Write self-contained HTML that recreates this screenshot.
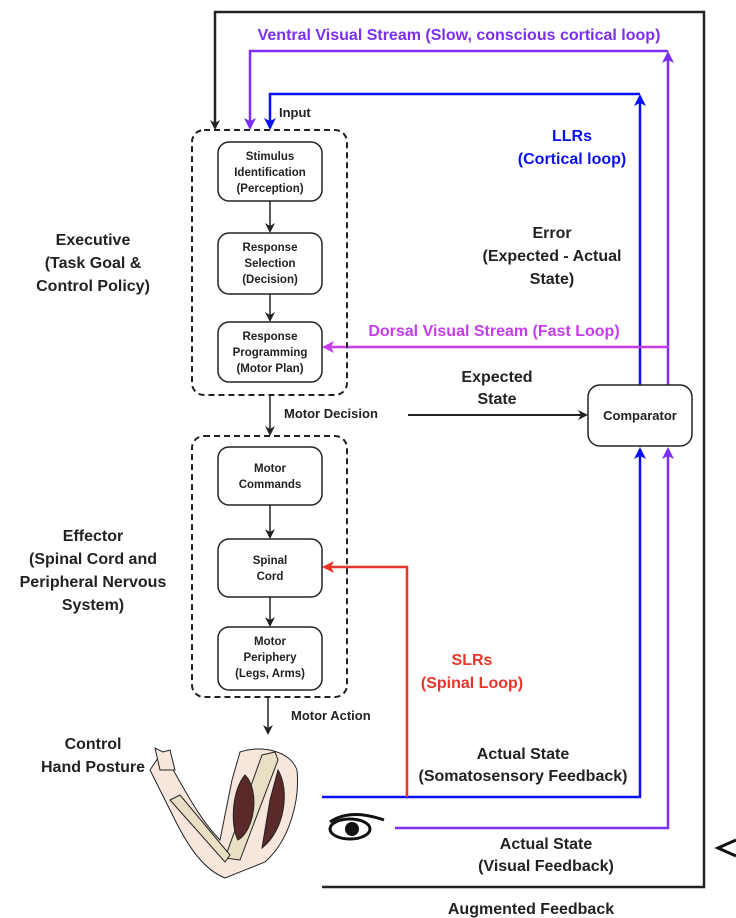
<!DOCTYPE html>
<html><head><meta charset="utf-8"><style>
body{margin:0;background:#fff}
svg{display:block;font-family:"Liberation Sans",sans-serif;font-weight:bold}
</style></head><body>
<svg width="736" height="918" viewBox="0 0 736 918" xmlns="http://www.w3.org/2000/svg">
<defs>
<marker id="ak" markerWidth="10" markerHeight="10" refX="8" refY="5" orient="auto" markerUnits="userSpaceOnUse"><path d="M0,0 L10,5 L0,10 L3,5z" fill="#222"/></marker>
<marker id="ap" markerWidth="12" markerHeight="12" refX="10" refY="6" orient="auto" markerUnits="userSpaceOnUse"><path d="M0,0 L12,6 L0,12 L3,6z" fill="#7b2ff2"/></marker>
<marker id="ab" markerWidth="12" markerHeight="12" refX="10" refY="6" orient="auto" markerUnits="userSpaceOnUse"><path d="M0,0 L12,6 L0,12 L3,6z" fill="#0a10f0"/></marker>
<marker id="am" markerWidth="12" markerHeight="12" refX="10" refY="6" orient="auto" markerUnits="userSpaceOnUse"><path d="M0,0 L12,6 L0,12 L3,6z" fill="#c83cf0"/></marker>
<marker id="ar" markerWidth="12" markerHeight="12" refX="10" refY="6" orient="auto" markerUnits="userSpaceOnUse"><path d="M0,0 L12,6 L0,12 L3,6z" fill="#e8352a"/></marker>
</defs>
<!-- outer black loop -->
<path d="M322,887 H704 V12 H215 V128" fill="none" stroke="#222" stroke-width="2.5" marker-end="url(#ak)"/>
<!-- ventral -->
<path d="M668,385 V53" fill="none" stroke="#7b2ff2" stroke-width="2.5" marker-end="url(#ap)"/>
<path d="M668,51 H250 V128" fill="none" stroke="#7b2ff2" stroke-width="2.5" marker-end="url(#ap)"/>
<path d="M395,828 H668 V449" fill="none" stroke="#7b2ff2" stroke-width="2.5" marker-end="url(#ap)"/>
<!-- blue -->
<path d="M640,385 V96" fill="none" stroke="#0a10f0" stroke-width="2.5" marker-end="url(#ab)"/>
<path d="M640,94 H270 V128" fill="none" stroke="#0a10f0" stroke-width="2.5" marker-end="url(#ab)"/>
<path d="M322,797 H640 V449" fill="none" stroke="#0a10f0" stroke-width="2.5" marker-end="url(#ab)"/>
<!-- dorsal -->
<path d="M668,347 H324" fill="none" stroke="#c83cf0" stroke-width="2.5" marker-end="url(#am)"/>
<!-- red -->
<path d="M407,797 V567 H324" fill="none" stroke="#e8352a" stroke-width="2.5" marker-end="url(#ar)"/>
<!-- expected state -->
<path d="M408,415 H586" fill="none" stroke="#222" stroke-width="2" marker-end="url(#ak)"/>
<!-- dashed boxes -->
<rect x="192" y="130" width="155" height="265" rx="12" fill="none" stroke="#222" stroke-width="2" stroke-dasharray="6,4"/>
<rect x="192" y="436" width="155" height="261" rx="12" fill="none" stroke="#222" stroke-width="2" stroke-dasharray="6,4"/>
<g fill="#fff" stroke="#222" stroke-width="1.5">
<rect x="218" y="142" width="104" height="59" rx="11"/>
<rect x="218" y="233" width="104" height="61" rx="11"/>
<rect x="218" y="322" width="104" height="60" rx="11"/>
<rect x="218" y="447" width="104" height="58" rx="11"/>
<rect x="218" y="539" width="104" height="58" rx="11"/>
<rect x="218" y="627" width="104" height="63" rx="11"/>
<rect x="588" y="385" width="104" height="61" rx="12"/>
</g>
<g stroke="#222" stroke-width="1.5" fill="none">
<path d="M270,201 V231" marker-end="url(#ak)"/>
<path d="M270,294 V320" marker-end="url(#ak)"/>
<path d="M270,395 V434" marker-end="url(#ak)"/>
<path d="M270,505 V537" marker-end="url(#ak)"/>
<path d="M270,597 V625" marker-end="url(#ak)"/>
<path d="M268,697 V733" marker-end="url(#ak)"/>
</g>
<g font-size="11.5" fill="#222" text-anchor="middle">
<text x="270" y="160">Stimulus</text><text x="270" y="176">Identification</text><text x="270" y="192">(Perception)</text>
<text x="270" y="251">Response</text><text x="270" y="267">Selection</text><text x="270" y="283">(Decision)</text>
<text x="270" y="340">Response</text><text x="270" y="356">Programming</text><text x="270" y="372">(Motor Plan)</text>
<text x="270" y="472">Motor</text><text x="270" y="488">Commands</text>
<text x="270" y="564">Spinal</text><text x="270" y="580">Cord</text>
<text x="270" y="645">Motor</text><text x="270" y="661">Periphery</text><text x="270" y="677">(Legs, Arms)</text>
<text x="640" y="420" font-size="13">Comparator</text>
</g>
<g font-size="13" fill="#222">
<text x="279" y="117">Input</text>
<text x="284" y="418">Motor Decision</text>
<text x="291" y="720">Motor Action</text>
</g>
<g font-size="16" fill="#222" text-anchor="middle">
<text x="93" y="245">Executive</text><text x="93" y="268">(Task Goal &amp;</text><text x="93" y="291">Control Policy)</text>
<text x="93" y="541">Effector</text><text x="93" y="564">(Spinal Cord and</text><text x="93" y="587">Peripheral Nervous</text><text x="93" y="610">System)</text>
<text x="93" y="749">Control</text><text x="93" y="772">Hand Posture</text>
<text x="552" y="238">Error</text><text x="552" y="261">(Expected - Actual</text><text x="552" y="284">State)</text>
<text x="497" y="382">Expected</text><text x="497" y="404">State</text>
<text x="523" y="759">Actual State</text><text x="523" y="781">(Somatosensory Feedback)</text>
<text x="546" y="849">Actual State</text><text x="546" y="871">(Visual Feedback)</text>
<text x="531" y="914">Augmented Feedback</text>
</g>
<g font-size="16" text-anchor="middle">
<text x="459" y="40" fill="#7b2ff2">Ventral Visual Stream (Slow, conscious cortical loop)</text>
<text x="572" y="141" fill="#0a10f0">LLRs</text><text x="572" y="164" fill="#0a10f0">(Cortical loop)</text>
<text x="494" y="336" fill="#c83cf0">Dorsal Visual Stream (Fast Loop)</text>
<text x="472" y="665" fill="#e8352a">SLRs</text><text x="472" y="688" fill="#e8352a">(Spinal Loop)</text>
</g>
<!-- arm -->
<g stroke="#222" stroke-width="1">
<path d="M240,752 C260,745 290,750 297,770 C300,800 290,840 265,862 L225,878 C205,870 190,850 175,820 L160,790 L150,770 L160,755 L172,768 C185,790 200,820 220,840 L232,780z" fill="#f6e6dc"/>
<path d="M262,755 L275,752 L278,760 L240,860 L225,858z" fill="#e8dfc4"/>
<path d="M170,800 L180,795 L230,855 L225,862z" fill="#e8dfc4"/>
<path d="M245,775 C260,790 255,830 238,840 C230,825 232,790 245,775z" fill="#5a2a2a"/>
<path d="M278,770 C290,790 285,830 262,848 L270,800z" fill="#5a2a2a"/>
<path d="M155,748 L160,770 L175,770 L170,750 L163,752z" fill="#f6e6dc"/>
</g>
<!-- eye -->
<ellipse cx="350" cy="829" rx="20" ry="10" fill="#fff" stroke="#111" stroke-width="3"/>
<circle cx="352" cy="829" r="7" fill="#111"/>
<path d="M330,822 Q350,808 384,820" stroke="#111" stroke-width="3" fill="none"/>
<!-- partial arrow at right -->
<path d="M736,840 L718,848 L736,856" fill="none" stroke="#111" stroke-width="3"/>
</svg>
</body></html>
